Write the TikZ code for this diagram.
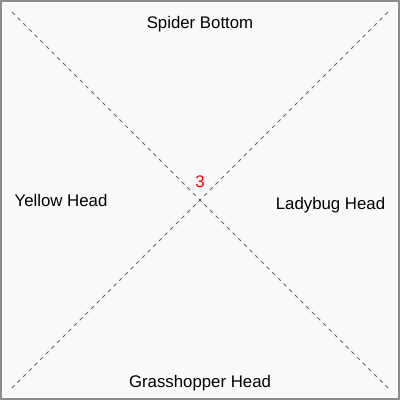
\documentclass[tikz,border=0pt]{standalone}
\usepackage{fontspec}
\setmainfont{Liberation Sans}
\usepackage{xcolor}
\usetikzlibrary{positioning}

\begin{document}
\begin{tikzpicture}[x=1bp,y=-1bp,
  lbl/.style={anchor=base,inner sep=0pt,font=\fontsize{16.8bp}{19bp}\selectfont},
  num/.style={lbl,text=red},
  diag/.style={draw=black!60,line width=0.8bp,dash pattern=on 4bp off 4bp},
  frame/.style={fill=black!2,draw=black!45,line width=2.4bp}]
  \useasboundingbox (0,0) rectangle (400,400);
  \draw[frame] (1.2,1.2) rectangle (398.8,398.8);
  % corners of the two crossing lines
  \coordinate (tl) at (12,12);
  \coordinate (tr) at (388,12);
  \coordinate (bl) at (12,388);
  \coordinate (br) at (388,388);
  \draw[diag] (tl) -- (br);
  \draw[diag] (tr) -- (bl);
  \node[lbl] (top)    at (200,28)  {Spider Bottom};
  \node[lbl] (left)   at (61,206)  {Yellow Head};
  \node[lbl] (right)  at (330.5,209) {Ladybug Head};
  \node[lbl] (bottom) at (200,387) {Grasshopper Head};
  \node[num] (count)  at (200,187) {3};
\end{tikzpicture}
\end{document}
